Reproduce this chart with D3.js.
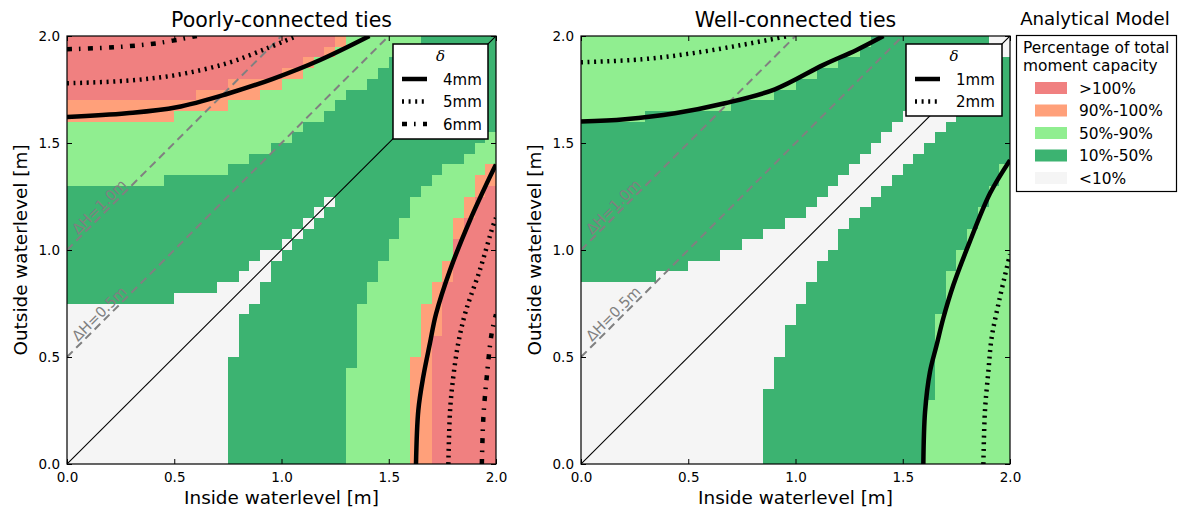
<!DOCTYPE html>
<html>
<head>
<meta charset="utf-8">
<script src="https://cdn.jsdelivr.net/npm/d3@7"></script>
<style>
  body { margin: 0; background: #ffffff; }
  text { font-family: "DejaVu Sans", sans-serif; fill: #000; }
</style>
</head>
<body>
<svg id="chart" width="1179" height="511"></svg>
<script>
// ---- categories -------------------------------------------------------
const classLabels = ["<10%", "10%-50%", "50%-90%", "90%-100%", ">100%"];
const classColors = ["#f5f5f5", "#3cb371", "#90ee90", "#ffa07a", "#f08080"];

// ---- axes ---------------------------------------------------------------
const tickValues = [0.0, 0.5, 1.0, 1.5, 2.0];
const tickLabels = ["0.0", "0.5", "1.0", "1.5", "2.0"];
const cellSize = 0.05;   // grid spacing of the evaluated water levels [m]
const cellCount = 40;

// ---- Poorly-connected ties ----------------------------------------------
// Above the diagonal: for each inside-level column, first row where a class starts.
const poorUpDark   = [15,15,15,15,15,15,15,15,15,15,16,16,16,16,17,17,18,19,20,20,21,22,23,24,25,26,27,28,29,30,31,32,33,34,35,36,37,38,39,40];
const poorUpLight  = [26,26,26,26,26,26,26,26,26,27,27,27,27,27,27,28,28,29,29,30,30,31,32,32,33,34,35,35,36,37,38,38,39,40,40,40,40,40,40,40];
const poorUpOrange = [32,32,32,32,32,32,32,32,32,32,33,33,33,33,33,34,34,34,35,35,36,36,37,38,38,39,40,40,40,40,40,40,40,40,40,40,40,40,40,40];
const poorUpRed    = [34,34,34,34,34,34,34,34,34,34,34,34,35,35,35,36,36,36,36,36,37,37,38,38,39,40,40,40,40,40,40,40,40,40,40,40,40,40,40,40];
// Below the diagonal: for each column, number of rows (from the bottom) at or above a class.
const poorLowDark   = [0,0,0,0,0,0,0,0,0,0,0,0,0,0,0,10,14,15,17,19,20,21,22,23,24,25,26,27,28,29,30,31,32,33,34,35,36,37,38,39];
const poorLowLight  = [0,0,0,0,0,0,0,0,0,0,0,0,0,0,0,0,0,0,0,0,0,0,0,0,0,0,9,15,17,19,21,23,25,26,27,28,28,29,30,31];
const poorLowOrange = [0,0,0,0,0,0,0,0,0,0,0,0,0,0,0,0,0,0,0,0,0,0,0,0,0,0,0,0,0,0,0,0,10,15,17,19,23,25,27,28];
const poorLowRed    = [0,0,0,0,0,0,0,0,0,0,0,0,0,0,0,0,0,0,0,0,0,0,0,0,0,0,0,0,0,0,0,0,0,0,12,17,21,23,25,26];
const poorDiag      = [0,0,0,0,0,0,0,0,0,0,0,0,0,0,0,0,0,0,0,0,0,0,0,0,0,1,1,1,1,1,1,1,1,1,1,1,1,1,1,1];

// ---- Well-connected ties ------------------------------------------------
const wellUpDark  = [17,17,17,17,17,17,17,18,18,18,19,19,19,20,20,21,21,22,22,23,23,24,25,26,27,28,29,30,31,32,33,34,35,36,37,38,39,39,40,40];
const wellUpLight = [32,32,32,32,32,32,33,33,33,33,33,33,33,33,34,34,34,34,35,35,36,36,37,37,38,38,39,40,40,40,40,40,40,40,40,40,40,40,40,40];
const wellLowDark  = [0,0,0,0,0,0,0,0,0,0,0,0,0,0,0,0,0,7,10,13,15,17,19,20,22,23,24,25,26,27,28,29,30,31,32,33,34,35,36,38];
const wellLowLight = [0,0,0,0,0,0,0,0,0,0,0,0,0,0,0,0,0,0,0,0,0,0,0,0,0,0,0,0,0,0,0,0,6,14,18,20,22,24,26,28];
const wellDiag     = [0,0,0,0,0,0,0,0,0,0,0,0,0,0,0,0,0,0,0,0,0,0,0,0,0,0,0,0,0,0,0,0,0,0,0,0,0,0,0,0];

// ---- rotation contours (inside level, outside level) [m] -----------------
const poor4Upper = [[0,1.621],[0.278,1.639],[0.511,1.667],[0.745,1.729],[0.96,1.80],[1.18,1.888],[1.41,2.0]];
const poor4Lower = [[1.627,0],[1.638,0.252],[1.661,0.408],[1.692,0.564],[1.72,0.70],[1.786,0.907],[1.879,1.14],[1.972,1.343],[2.0,1.40]];
const poor5Upper = [[0,1.779],[0.278,1.791],[0.511,1.818],[0.745,1.872],[0.931,1.942],[1.07,2.0]];
const poor5Lower = [[1.778,0],[1.786,0.252],[1.801,0.408],[1.824,0.564],[1.858,0.71],[1.925,0.907],[1.985,1.109],[2.0,1.15]];
const poor6Upper = [[0,1.938],[0.216,1.947],[0.418,1.966],[0.605,2.0]];
const poor6Lower = [[1.934,0],[1.941,0.214],[1.957,0.408],[1.98,0.611],[2.0,0.70]];

const well1Upper = [[0,1.60],[0.205,1.611],[0.438,1.639],[0.671,1.686],[0.904,1.751],[1.128,1.864],[1.285,1.935],[1.41,2.0]];
const well1Lower = [[1.596,0],[1.604,0.244],[1.627,0.431],[1.658,0.556],[1.689,0.681],[1.736,0.836],[1.813,1.04],[1.907,1.265],[2.0,1.42]];
const well2Upper = [[0,1.877],[0.283,1.891],[0.516,1.919],[0.749,1.958],[0.965,2.0]];
const well2Lower = [[1.876,0],[1.883,0.244],[1.899,0.431],[1.914,0.587],[1.945,0.743],[1.977,0.883],[2.0,0.98]];

// head differences marked with guide lines
const headDiffs = [0.5, 1.0];
const headLabels = ["\u0394H=0.5m", "\u0394H=1.0m"];

// ---- line styles for deformation levels --------------------------------
const styleSolid = { dash: null };
const styleDot = { dash: "2,4.6" };
const styleDashDot = { dash: "5,7,1.6,7.4" };

const panels = [
  {
    title: "Poorly-connected ties", left: 67, top: 36, width: 429, height: 428, ylabelX: 20,
    up: [poorUpDark, poorUpLight, poorUpOrange, poorUpRed],
    low: [poorLowDark, poorLowLight, poorLowOrange, poorLowRed],
    diag: poorDiag,
    curves: [
      { name: "4mm", style: styleSolid, parts: [poor4Upper, poor4Lower] },
      { name: "5mm", style: styleDot, parts: [poor5Upper, poor5Lower] },
      { name: "6mm", style: styleDashDot, parts: [poor6Upper, poor6Lower] }
    ],
    legendBox: { w: 95, h: 95 }
  },
  {
    title: "Well-connected ties", left: 581, top: 36, width: 429, height: 428, ylabelX: 534,
    up: [wellUpDark, wellUpLight],
    low: [wellLowDark, wellLowLight],
    diag: wellDiag,
    curves: [
      { name: "1mm", style: styleSolid, parts: [well1Upper, well1Lower] },
      { name: "2mm", style: styleDot, parts: [well2Upper, well2Lower] }
    ],
    legendBox: { w: 96, h: 72 }
  }
];

const svg = d3.select("#chart");

function classify(p, i, j) {
  if (i === j) return p.diag[i];
  let c = 0;
  if (j > i) {
    p.up.forEach((arr, k) => { if (j >= arr[i]) c = k + 1; });
  } else {
    p.low.forEach((arr, k) => { if (j < arr[i]) c = k + 1; });
  }
  return c;
}

panels.forEach((p, pi) => {
  const x = d3.scaleLinear().domain([0, 2]).range([p.left, p.left + p.width]);
  const y = d3.scaleLinear().domain([0, 2]).range([p.top + p.height, p.top]);
  const g = svg.append("g");

  const clipId = "clip" + pi;
  svg.append("defs").append("clipPath").attr("id", clipId)
    .append("rect").attr("x", p.left).attr("y", p.top).attr("width", p.width).attr("height", p.height);

  // capacity cells
  const cells = [];
  for (let i = 0; i < cellCount; i++)
    for (let j = 0; j < cellCount; j++)
      cells.push({ i, j, c: classify(p, i, j) });

  g.append("g").selectAll("rect").data(cells).join("rect")
    .attr("x", d => x(d.i * cellSize))
    .attr("y", d => y((d.j + 1) * cellSize))
    .attr("width", d => x((d.i + 1) * cellSize) - x(d.i * cellSize))
    .attr("height", d => y(d.j * cellSize) - y((d.j + 1) * cellSize))
    .attr("fill", d => classColors[d.c])
    .attr("shape-rendering", "crispEdges");

  const plot = g.append("g").attr("clip-path", `url(#${clipId})`);

  // head-difference guide lines
  headDiffs.forEach((dh, k) => {
    plot.append("line")
      .attr("x1", x(0)).attr("y1", y(dh))
      .attr("x2", x(2 - dh)).attr("y2", y(2))
      .attr("stroke", "#808080").attr("stroke-width", 2)
      .attr("stroke-dasharray", "8,5");
    const lx = 0.15, ly = lx + dh + 0.052;
    g.append("text")
      .attr("transform", `translate(${x(lx)},${y(ly)}) rotate(-45)`)
      .attr("text-anchor", "middle").attr("dominant-baseline", "central")
      .style("font-size", "14.5px").style("fill", "#808080")
      .text(headLabels[k]);
  });

  // equal water level
  plot.append("line")
    .attr("x1", x(0)).attr("y1", y(0)).attr("x2", x(2)).attr("y2", y(2))
    .attr("stroke", "#000").attr("stroke-width", 1.1);

  // rotation contours
  const line = d3.line().x(d => x(d[0])).y(d => y(d[1])).curve(d3.curveCatmullRom.alpha(0.5));
  p.curves.forEach(cv => {
    cv.parts.forEach(part => {
      plot.append("path").attr("d", line(part))
        .attr("fill", "none").attr("stroke", "#000").attr("stroke-width", 4.5)
        .attr("stroke-dasharray", cv.style.dash);
    });
  });

  // frame and ticks (inward, all sides)
  const tl = 5;
  g.append("g").attr("transform", `translate(0,${p.top + p.height})`)
    .call(d3.axisBottom(x).tickValues(tickValues).tickFormat((d, k) => tickLabels[k]).tickSize(-tl).tickPadding(8))
    .call(a => a.select(".domain").remove())
    .selectAll("text").style("font-size", "13.5px").style("font-family", "DejaVu Sans");
  g.append("g").attr("transform", `translate(${p.left},0)`)
    .call(d3.axisLeft(y).tickValues(tickValues).tickFormat((d, k) => tickLabels[k]).tickSize(-tl).tickPadding(7))
    .call(a => a.select(".domain").remove())
    .selectAll("text").style("font-size", "13.5px").style("font-family", "DejaVu Sans");
  g.append("g").attr("transform", `translate(0,${p.top})`)
    .call(d3.axisTop(x).tickValues(tickValues).tickFormat("").tickSize(-tl))
    .call(a => a.select(".domain").remove());
  g.append("g").attr("transform", `translate(${p.left + p.width},0)`)
    .call(d3.axisRight(y).tickValues(tickValues).tickFormat("").tickSize(-tl))
    .call(a => a.select(".domain").remove());
  g.selectAll(".tick line").attr("stroke", "#000").attr("stroke-width", 1);

  g.append("rect").attr("x", p.left).attr("y", p.top).attr("width", p.width).attr("height", p.height)
    .attr("fill", "none").attr("stroke", "#000").attr("stroke-width", 1.2);

  // titles and axis labels
  g.append("text").attr("x", p.left + p.width / 2).attr("y", 27)
    .attr("text-anchor", "middle").style("font-size", "20.5px").text(p.title);
  g.append("text").attr("x", p.left + p.width / 2).attr("y", 504)
    .attr("text-anchor", "middle").style("font-size", "18.4px").text("Inside waterlevel [m]");
  g.append("text").attr("transform", `translate(${p.ylabelX},${p.top + p.height / 2}) rotate(-90)`)
    .attr("text-anchor", "middle").attr("dominant-baseline", "central")
    .style("font-size", "18.4px").text("Outside waterlevel [m]");

  // deformation legend
  const bw = p.legendBox.w, bh = p.legendBox.h;
  const bx = p.left + p.width - 8 - bw, by = p.top + 8;
  const lg = g.append("g");
  lg.append("rect").attr("x", bx).attr("y", by).attr("width", bw).attr("height", bh)
    .attr("fill", "#fff").attr("stroke", "#000").attr("stroke-width", 1.5);
  lg.append("text").attr("x", bx + bw / 2).attr("y", by + 17)
    .attr("text-anchor", "middle")
    .style("font-family", "DejaVu Serif").style("font-style", "italic").style("font-size", "15px")
    .text("\u03b4");
  p.curves.forEach((cv, k) => {
    const yy = by + 35 + k * 22.5;
    lg.append("line").attr("x1", bx + 9).attr("x2", bx + 34).attr("y1", yy).attr("y2", yy)
      .attr("stroke", "#000").attr("stroke-width", 4.5).attr("stroke-dasharray", cv.style.dash);
    lg.append("text").attr("x", bx + 50).attr("y", yy + 5.5).style("font-size", "15px").text(cv.name);
  });
});

// ---- capacity legend ----------------------------------------------------
const cl = svg.append("g");
cl.append("text").attr("x", 1095).attr("y", 25).attr("text-anchor", "middle")
  .style("font-size", "18.2px").text("Analytical Model");
cl.append("rect").attr("x", 1016.5).attr("y", 35.5).attr("width", 160).attr("height", 156)
  .attr("fill", "#fff").attr("stroke", "#000").attr("stroke-width", 1.2);
cl.append("text").attr("x", 1023).attr("y", 53).style("font-size", "15.4px").text("Percentage of total");
cl.append("text").attr("x", 1023).attr("y", 71).style("font-size", "15.4px").text("moment capacity");
const legendOrder = [4, 3, 2, 1, 0];
legendOrder.forEach((c, k) => {
  const yy = 88 + k * 22.5;
  cl.append("rect").attr("x", 1035).attr("y", yy - 6).attr("width", 32).attr("height", 12)
    .attr("fill", classColors[c]);
  cl.append("text").attr("x", 1079).attr("y", yy + 5.5).style("font-size", "15.4px").text(classLabels[c]);
});
</script>
</body>
</html>
